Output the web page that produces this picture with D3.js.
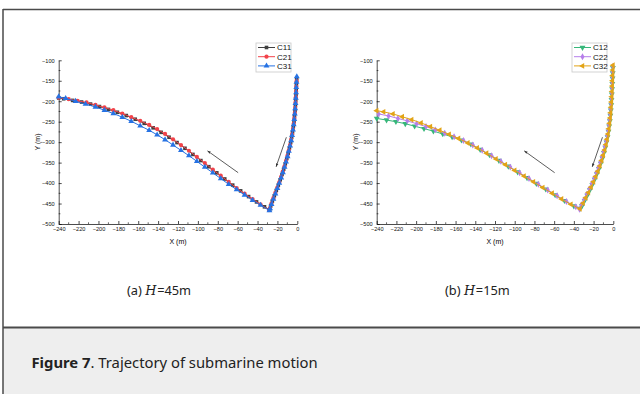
<!DOCTYPE html>
<html><head><meta charset="utf-8">
<script src="https://cdn.jsdelivr.net/npm/d3@7"></script>
<style>body{margin:0;background:#fff}svg{display:block}</style>
</head><body><svg id="fig" width="640" height="394"></svg>
<script>
// ---- axis ticks ----
const xTicks = [-240, -220, -200, -180, -160, -140, -120, -100, -80, -60, -40, -20, 0];
const xMinor = [-230, -210, -190, -170, -150, -130, -110, -90, -70, -50, -30, -10];
const yTicks = [-500, -450, -400, -350, -300, -250, -200, -150, -100];
const yMinor = [-475, -425, -375, -325, -275, -225, -175, -125];

// ---- trajectories, H = 45 m ----
const C11 = [[-0.6,-145],[-0.9,-158],[-1.1,-171],[-1.3,-184],[-1.6,-197],[-1.9,-210],[-2.3,-223],[-2.8,-236],[-3.3,-249],[-4,-262],[-4.8,-275],[-5.7,-288],[-6.7,-301],[-7.9,-314],[-9.2,-327],[-10.6,-340],[-12.1,-353],[-13.7,-366],[-15.4,-379],[-17.2,-392],[-19.1,-405],[-21.1,-418],[-23.1,-431],[-25.1,-444],[-26.8,-456],[-27.8,-465],
  [-33,-458],[-41,-446],[-49,-433],[-57,-419],[-65,-405],[-73,-390],[-81,-375],[-89,-360],[-97,-345],[-105,-330],[-113,-315],[-121,-301],[-129,-288],[-137,-276],[-145,-265],[-154,-254],[-163,-244],[-172,-235],[-181,-227],[-190,-220],[-199,-213],[-208,-207],[-217,-202],[-226,-198],[-235,-194],[-240,-192]];
const C21 = [[-0.7,-151],[-1,-164],[-1.2,-177],[-1.5,-190],[-1.8,-203],[-2.1,-216],[-2.5,-229],[-3,-242],[-3.6,-255],[-4.4,-268],[-5.2,-281],[-6.2,-294],[-7.3,-307],[-8.5,-320],[-9.9,-333],[-11.4,-346],[-12.9,-359],[-14.6,-372],[-16.3,-385],[-18.2,-398],[-20.1,-411],[-22.1,-424],[-24.1,-437],[-26,-450],[-27.5,-461],[-28.5,-466],
  [-37,-452],[-45,-439],[-53,-426],[-61,-412],[-69,-397],[-77,-382],[-85,-367],[-93,-351],[-101,-336],[-109,-321],[-117,-307],[-125,-293],[-133,-280],[-141,-268],[-149,-258],[-158,-248],[-167,-239],[-176,-230],[-185,-222],[-194,-215],[-203,-209],[-212,-203],[-221,-199],[-230,-195],[-240,-191]];
const C31 = [[-0.5,-140],[-0.8,-153],[-1,-166],[-1.2,-179],[-1.5,-192],[-1.8,-205],[-2.1,-218],[-2.5,-231],[-3,-244],[-3.6,-257],[-4.3,-270],[-5.2,-283],[-6.1,-296],[-7.2,-309],[-8.5,-322],[-9.8,-335],[-11.3,-348],[-12.8,-361],[-14.5,-374],[-16.2,-387],[-18.1,-400],[-20,-413],[-22,-426],[-24,-439],[-25.9,-452],[-27.4,-462],[-28,-467],
  [-37,-454],[-45,-442],[-53,-429],[-61,-416],[-69,-403],[-77,-389],[-85,-375],[-93,-361],[-101,-347],[-109,-333],[-117,-320],[-125,-307],[-133,-294],[-141,-282],[-149,-271],[-158,-260],[-167,-249],[-176,-239],[-185,-230],[-194,-222],[-203,-214],[-213,-207],[-223,-200],[-233,-193],[-240,-189]];

// ---- trajectories, H = 15 m ----
const C12 = [[-0.4,-118],[-0.6,-131],[-0.8,-144],[-1,-157],[-1.2,-170],[-1.5,-183],[-1.8,-196],[-2.1,-209],[-2.5,-222],[-3,-235],[-3.5,-248],[-4.2,-261],[-4.9,-274],[-5.8,-287],[-6.9,-300],[-8.1,-313],[-9.5,-326],[-11,-339],[-12.7,-352],[-14.6,-365],[-16.7,-378],[-18.9,-391],[-21.3,-404],[-23.8,-417],[-26.4,-430],[-29.1,-443],[-31.8,-456],[-33.6,-462],
  [-40,-456],[-49.5,-443],[-59,-429],[-68.5,-415],[-78,-401],[-87.5,-387],[-97,-373],[-106.5,-359],[-116,-345],[-125.5,-331],[-135,-318],[-144.5,-305],[-154,-295],[-163.5,-287],[-173,-280],[-182.5,-273],[-192,-267],[-201.5,-261],[-211,-255],[-220.5,-250],[-230,-246],[-240,-242]];
const C22 = [[-0.4,-115],[-0.6,-128],[-0.8,-141],[-1,-154],[-1.3,-167],[-1.5,-180],[-1.8,-193],[-2.2,-206],[-2.6,-219],[-3.1,-232],[-3.7,-245],[-4.4,-258],[-5.2,-271],[-6.1,-284],[-7.2,-297],[-8.5,-310],[-9.9,-323],[-11.5,-336],[-13.2,-349],[-15.1,-362],[-17.2,-375],[-19.4,-388],[-21.8,-401],[-24.3,-414],[-26.9,-427],[-29.6,-440],[-32.3,-453],[-34.2,-464],
  [-38,-458],[-47.5,-445],[-57,-431],[-66.5,-417],[-76,-403],[-85.5,-389],[-95,-375],[-104.5,-361],[-114,-347],[-123.5,-333],[-133,-320],[-142.5,-307],[-152,-296],[-161.5,-287],[-171,-278],[-180.5,-270],[-190,-262],[-199.5,-255],[-209,-248],[-218.5,-242],[-228,-236],[-238,-231]];
const C32 = [[-0.3,-112],[-0.5,-124],[-0.7,-137],[-0.9,-150],[-1.1,-163],[-1.3,-176],[-1.6,-189],[-1.9,-202],[-2.3,-215],[-2.7,-228],[-3.2,-241],[-3.8,-254],[-4.5,-267],[-5.3,-280],[-6.3,-293],[-7.4,-306],[-8.7,-319],[-10.2,-332],[-11.8,-345],[-13.6,-358],[-15.6,-371],[-17.8,-384],[-20.1,-397],[-22.6,-410],[-25.2,-423],[-27.9,-436],[-30.6,-449],[-33.8,-463],
  [-43,-452],[-52.5,-439],[-62,-425],[-71.5,-411],[-81,-397],[-90.5,-383],[-100,-369],[-109.5,-355],[-119,-341],[-128.5,-327],[-138,-314],[-147.5,-302],[-157,-291],[-166.5,-281],[-176,-271],[-185.5,-262],[-195,-253],[-204.5,-245],[-214,-238],[-223.5,-231],[-233,-226],[-240,-223]];

// direction-of-motion arrows, [from, to] in data units
const arrows = [[[-59.5,-374.6],[-90.2,-321.5]], [[-11,-288],[-21.3,-360]]];

const panels = [
  {x0: 58.7, x1: 297.3, caption: "(a) ", h: "45m", capX: 127,
   series: [
     {name: "C11", data: C11, color: "#404040", sym: d3.symbolSquare, size: 13, rot: 0},
     {name: "C21", data: C21, color: "#f2434a", sym: d3.symbolCircle, size: 14, rot: 0},
     {name: "C31", data: C31, color: "#2672e3", sym: d3.symbolTriangle, size: 15, rot: 0}],
   legX: 256},
  {x0: 376.7, x1: 613.3, caption: "(b) ", h: "15m", capX: 445,
   series: [
     {name: "C12", data: C12, color: "#37b77a", sym: d3.symbolTriangle, size: 15, rot: 180},
     {name: "C22", data: C22, color: "#b67fea", sym: d3.symbolDiamond, size: 14, rot: 0},
     {name: "C32", data: C32, color: "#e2a416", sym: d3.symbolTriangle, size: 15, rot: -90}],
   legX: 572}
];

const svg = d3.select("#fig");
const font = "'Liberation Sans', Arial, sans-serif";

// page frame and caption band
svg.append("rect").attr("x", 3).attr("y", 328).attr("width", 637).attr("height", 66).attr("fill", "#eeeeee");
svg.append("line").attr("x1", 3).attr("x2", 640).attr("y1", 9.5).attr("y2", 9.5).attr("stroke", "#4a4a4a").attr("stroke-width", 1.5);
svg.append("line").attr("x1", 3).attr("x2", 640).attr("y1", 327.5).attr("y2", 327.5).attr("stroke", "#4a4a4a").attr("stroke-width", 2);
svg.append("line").attr("x1", 3).attr("x2", 3).attr("y1", 9).attr("y2", 394).attr("stroke", "#4a4a4a").attr("stroke-width", 1.5);

svg.append("defs").append("marker")
  .attr("id", "head").attr("viewBox", "0 0 10 10").attr("refX", 9).attr("refY", 5)
  .attr("markerWidth", 4.5).attr("markerHeight", 4.5).attr("orient", "auto")
  .append("path").attr("d", "M0,1.5 L10,5 L0,8.5 z").attr("fill", "#333");

const yScale = d3.scaleLinear().domain([-500, -100]).range([224, 60.3]);

panels.forEach(p => {
  const x = d3.scaleLinear().domain([-240, 0]).range([p.x0, p.x1]);
  const g = svg.append("g");

  // minor ticks
  g.append("g").selectAll("line").data(xMinor).join("line")
    .attr("x1", d => x(d)).attr("x2", d => x(d)).attr("y1", 224).attr("y2", 222.3)
    .attr("stroke", "#000").attr("stroke-width", 0.6);
  g.append("g").selectAll("line").data(yMinor).join("line")
    .attr("x1", p.x0).attr("x2", p.x0 + 1.7).attr("y1", d => yScale(d)).attr("y2", d => yScale(d))
    .attr("stroke", "#000").attr("stroke-width", 0.6);

  const ax = g.append("g").attr("transform", "translate(0,224)")
    .call(d3.axisBottom(x).tickValues(xTicks).tickSize(-3).tickSizeOuter(0).tickPadding(3).tickFormat(d3.format("d")));
  const ay = g.append("g").attr("transform", `translate(${p.x0},0)`)
    .call(d3.axisLeft(yScale).tickValues(yTicks).tickSize(-3).tickSizeOuter(0).tickPadding(4).tickFormat(d3.format("d")));
  [ax, ay].forEach(a => {
    a.selectAll("path,line").attr("stroke", "#000").attr("stroke-width", 0.7);
    a.selectAll("text").attr("font-family", font).attr("font-size", 5.6).attr("fill", "#111");
  });

  g.append("text").attr("x", (p.x0 + p.x1) / 2).attr("y", 244).attr("text-anchor", "middle")
    .attr("font-family", font).attr("font-size", 7).text("X (m)");
  g.append("text").attr("transform", `translate(${p.x0 - 18.5},142) rotate(-90)`).attr("text-anchor", "middle")
    .attr("font-family", font).attr("font-size", 7).text("Y (m)");

  const line = d3.line().x(d => x(d[0])).y(d => yScale(d[1]));
  p.series.forEach(s => {
    g.append("path").attr("d", line(s.data)).attr("fill", "none").attr("stroke", s.color).attr("stroke-width", 1);
    g.append("g").selectAll("path").data(s.data).join("path")
      .attr("d", d3.symbol().type(s.sym).size(s.size))
      .attr("transform", d => `translate(${x(d[0])},${yScale(d[1])}) rotate(${s.rot})`)
      .attr("fill", s.color);
  });

  arrows.forEach(a => {
    g.append("line").attr("x1", x(a[0][0])).attr("y1", yScale(a[0][1]))
      .attr("x2", x(a[1][0])).attr("y2", yScale(a[1][1]))
      .attr("stroke", "#333").attr("stroke-width", 0.8).attr("marker-end", "url(#head)");
  });

  // legend
  const lg = g.append("g");
  lg.append("rect").attr("x", p.legX).attr("y", 43).attr("width", 35).attr("height", 29)
    .attr("fill", "#fff").attr("stroke", "#c8c8c8").attr("stroke-width", 0.8);
  p.series.forEach((s, i) => {
    const yy = 47.5 + i * 9.2;
    lg.append("line").attr("x1", p.legX + 2).attr("x2", p.legX + 19).attr("y1", yy).attr("y2", yy)
      .attr("stroke", s.color).attr("stroke-width", 1);
    lg.append("path").attr("d", d3.symbol().type(s.sym).size(s.size)())
      .attr("transform", `translate(${p.legX + 10.5},${yy}) rotate(${s.rot})`).attr("fill", s.color);
    lg.append("text").attr("x", p.legX + 21).attr("y", yy + 2.9).attr("font-family", font)
      .attr("font-size", 8).attr("fill", "#111").text(s.name);
  });

  // sub-caption
  const t = svg.append("text").attr("x", p.capX).attr("y", 295)
    .attr("font-family", "'Noto Sans', 'Open Sans', sans-serif").attr("font-size", 12.8).attr("fill", "#222");
  t.append("tspan").text(p.caption);
  t.append("tspan").attr("font-family", "'DejaVu Serif', serif").attr("font-style", "italic").text("H");
  t.append("tspan").attr("dx", 0.8).text("=" + p.h);
});

const cap = svg.append("text").attr("x", 31.5).attr("y", 368)
  .attr("font-family", "'Noto Sans', 'Open Sans', sans-serif").attr("font-size", 14.8).attr("fill", "#222");
cap.append("tspan").attr("font-weight", "bold").text("Figure 7");
cap.append("tspan").text(". Trajectory of submarine motion");
</script></body></html>
